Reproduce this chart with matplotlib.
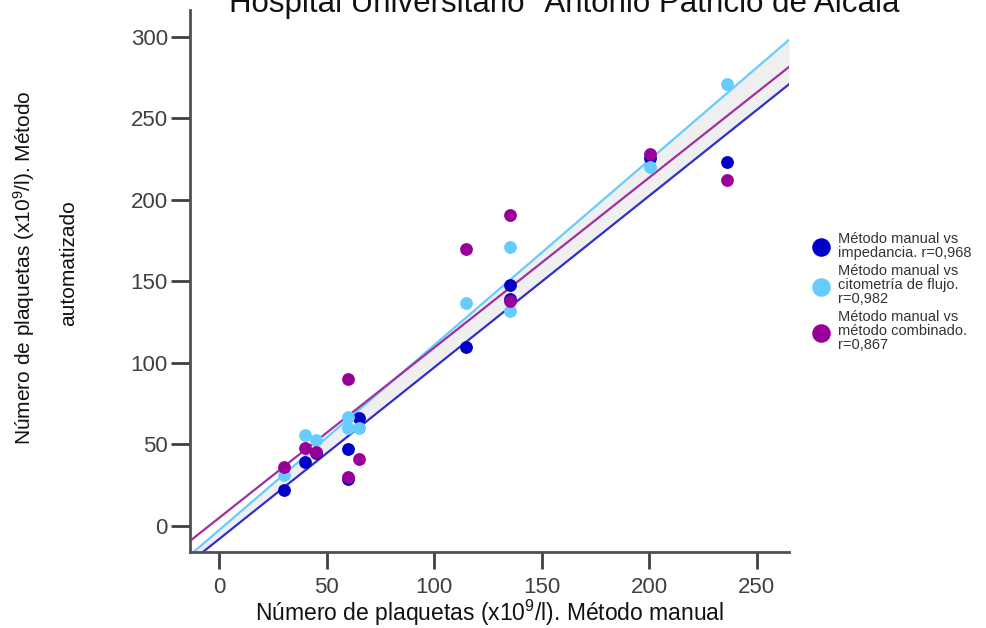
import matplotlib
matplotlib.use("Agg")
import matplotlib.pyplot as plt
import numpy as np

plt.rcParams['font.family'] = ['Liberation Sans', 'DejaVu Sans']
plt.rcParams['mathtext.fontset'] = 'custom'
plt.rcParams['mathtext.rm'] = 'Liberation Sans'
plt.rcParams['mathtext.it'] = 'Liberation Sans'

# Data (manual count vs automated count)
manual = [30, 40, 45, 60, 60, 65, 115, 135.5, 135.5, 200.5, 236]
impedancia = [22, 39, 45, 47, 29, 66, 110, 148, 139, 226, 223]
citometria = [31, 56, 53, 67, 60, 60, 137, 171, 132, 220, 271]
combinado = [36, 48, 45.5, 90, 30, 41, 170, 191, 138, 228, 212]

series_labels = ["Método manual vs\nimpedancia. r=0,968",
                 "Método manual vs\ncitometría de flujo.\nr=0,982",
                 "Método manual vs\nmétodo combinado.\nr=0,867"]
fit_slopes = [1.053, 1.135, 1.044]
fit_intercepts = [-8.1, -2.6, 4.9]

point_colors = ["#0000c8", "#66ccff", "#990099"]
line_colors = ["#2f2fd0", "#66ccff", "#a030a0"]

fig = plt.figure(figsize=(9.87, 6.28), dpi=100)
ax = fig.add_axes([190/987, 1-552/628, (789-190)/987, (552-10)/628])

xlim = (-13.5, 265)
ylim = (-16, 316.5)
ax.set_xlim(*xlim)
ax.set_ylim(*ylim)

xs = np.linspace(xlim[0], xlim[1], 200)
lines = [fit_slopes[i]*xs + fit_intercepts[i] for i in range(3)]
ax.fill_between(xs, lines[0], lines[1], color="#efefef", zorder=1, linewidth=0)
for i in range(3):
    ax.plot(xs, lines[i], color=line_colors[i], lw=1.6, zorder=2)

all_y = [impedancia, citometria, combinado]
handles = []
for i in range(3):
    h = ax.scatter(manual, all_y[i], s=85, color=point_colors[i], zorder=3 + i,
                   linewidths=0, label=series_labels[i])
    handles.append(h)

for s in ['top', 'right']:
    ax.spines[s].set_visible(False)
for s in ['left', 'bottom']:
    ax.spines[s].set_color('#505050')
    ax.spines[s].set_linewidth(2)

ax.set_xticks([0, 50, 100, 150, 200, 250])
ax.set_yticks([0, 50, 100, 150, 200, 250, 300])
ax.tick_params(axis='both', width=2, color='#404040',
               labelsize=16, labelcolor='#404040')
ax.tick_params(axis='x', length=12, pad=6)
ax.tick_params(axis='y', length=14, pad=2)

fig.text(489.5/987, 1 - 621/628, "Número de plaquetas (x10$^9$/l). Método manual",
         fontsize=16.5, ha='center', va='baseline', color='#111111')
fig.text(24/987, 1 - 268/628, "Número de plaquetas (x10$^9$/l). Método",
         rotation=90, fontsize=15, ha='center', va='center', color='#111111')
fig.text(69/987, 1 - 263/628, "automatizado",
         rotation=90, fontsize=15, ha='center', va='center', color='#111111')

fig.text(570/987, 1 - 12/628, 'Hospital Universitario "Antonio Patricio de Alcalá"',
         fontsize=22.5, ha='center', va='baseline', color='#111111')

leg = fig.legend(handles=handles, labels=series_labels, loc='center left',
                 bbox_to_anchor=(793/987, 1 - 292/628), frameon=False,
                 fontsize=10.5, markerscale=1.45, handletextpad=0.2,
                 labelspacing=0.3, labelcolor='#333333')
for t in leg.get_texts():
    t.set_linespacing(1.0)

fig.savefig("out.png", dpi=100)
